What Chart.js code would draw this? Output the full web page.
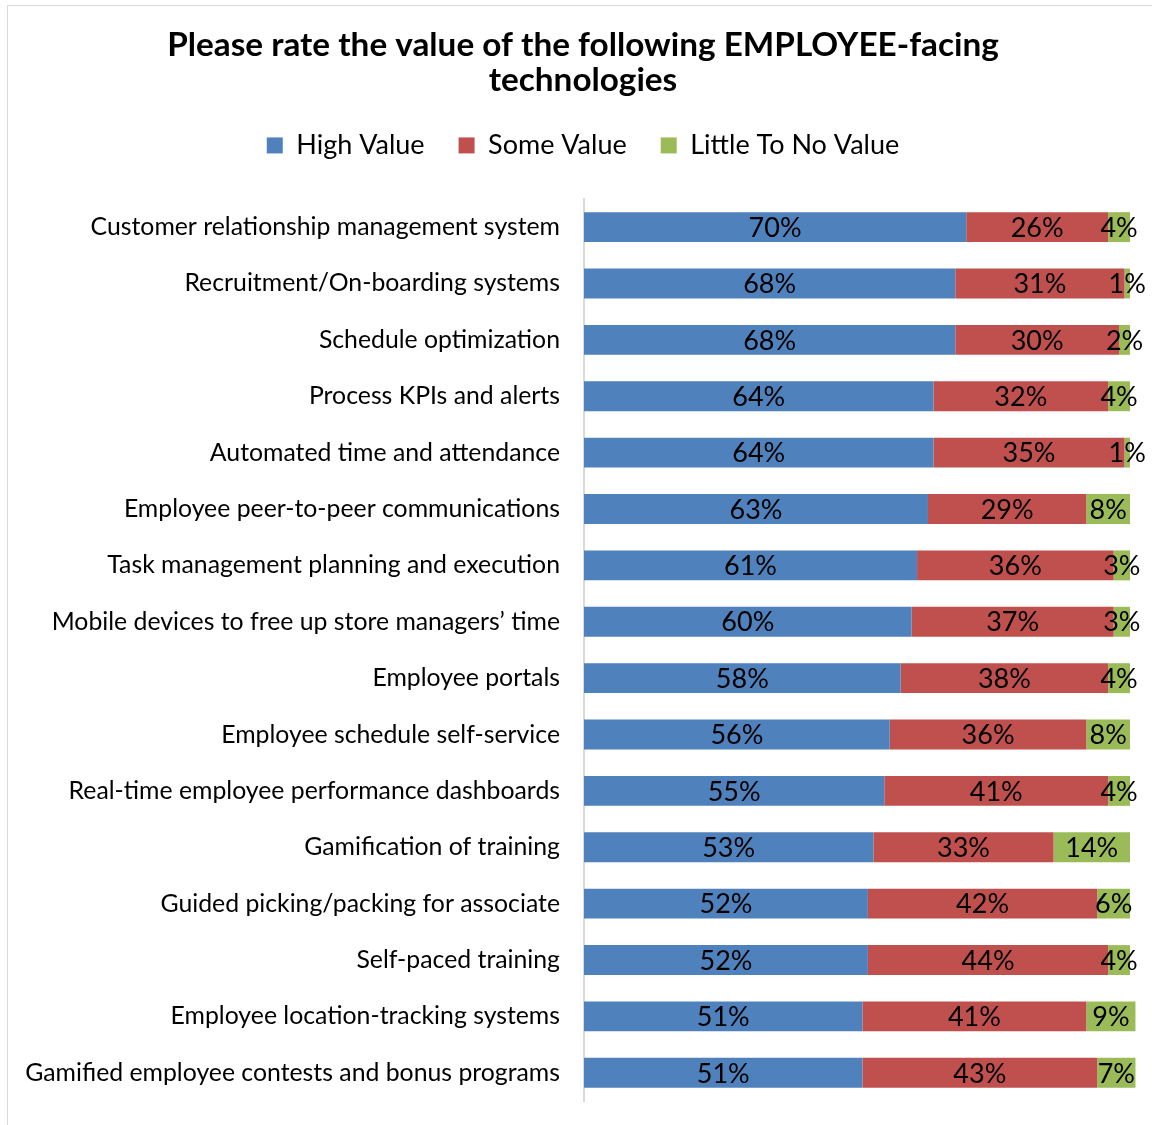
<!DOCTYPE html>
<html>
<head>
<meta charset="utf-8">
<title>EMPLOYEE-facing technologies</title>
<script src="https://cdn.jsdelivr.net/npm/chart.js@4.4.1/dist/chart.umd.min.js"></script>
<style>
    html, body { margin: 0; padding: 0; background: #fff; }
    #wrap { position: relative; width: 1152px; height: 1125px; }
    #frame {
        position: absolute; left: 7px; top: 5px; right: 0; bottom: 0;
        border-left: 1px solid #d9d9d9; border-top: 1px solid #d9d9d9;
        pointer-events: none;
    }
    canvas { position: absolute; left: 0; top: 0; }
</style>
</head>
<body>
<div id="wrap">
    <canvas id="techChart" width="1152" height="1125"></canvas>
    <div id="frame"></div>
</div>
<script>
// DATA
const technologies = [
    "Customer relationship management system",
    "Recruitment/On-boarding systems",
    "Schedule optimization",
    "Process KPIs and alerts",
    "Automated time and attendance",
    "Employee peer-to-peer communications",
    "Task management planning and execution",
    "Mobile devices to free up store managers\u2019 time",
    "Employee portals",
    "Employee schedule self-service",
    "Real-time employee performance dashboards",
    "Gamification of training",
    "Guided picking/packing for associate",
    "Self-paced training",
    "Employee location-tracking systems",
    "Gamified employee contests and bonus programs"
];
const highValue   = [70, 68, 68, 64, 64, 63, 61, 60, 58, 56, 55, 53, 52, 52, 51, 51];
const someValue   = [26, 31, 30, 32, 35, 29, 36, 37, 38, 36, 41, 33, 42, 44, 41, 43];
const littleValue = [ 4,  1,  2,  4,  1,  8,  3,  3,  4,  8,  4, 14,  6,  4,  9,  7];

const FONT = "Lato, 'Open Sans', sans-serif";

// percentage labels centred inside each segment
const segmentLabels = {
    id: "segmentLabels",
    afterDatasetsDraw(chart) {
        const ctx = chart.ctx;
        ctx.save();
        ctx.font = "27px " + FONT;
        ctx.fillStyle = "#000";
        ctx.textAlign = "center";
        ctx.textBaseline = "middle";
        chart.data.datasets.forEach((ds, i) => {
            chart.getDatasetMeta(i).data.forEach((bar, j) => {
                const p = bar.getProps(["x", "y", "base"], true);
                ctx.fillText(ds.data[j] + "%", (p.x + p.base) / 2, p.y + 1);
            });
        });
        ctx.restore();
    }
};

// extra room under the legend, and title + legend nudged right of centre
const headerLayout = {
    id: "headerLayout",
    beforeInit(chart) {
        const fit = chart.legend.fit;
        chart.legend.fit = function () {
            fit.bind(chart.legend)();
            this.height += 30;
        };
    },
    afterLayout(chart) {
        [chart.titleBlock, chart.legend].forEach(box => {
            box.left += 14;
            box.right += 14;
        });
    }
};

new Chart(document.getElementById("techChart"), {
    type: "bar",
    data: {
        labels: technologies,
        datasets: [
            { label: "High Value", data: highValue, backgroundColor: "#4F81BD" },
            { label: "Some Value", data: someValue, backgroundColor: "#C0504D" },
            { label: "Little To No Value", data: littleValue, backgroundColor: "#9BBB59", clip: false }
        ]
    },
    options: {
        indexAxis: "y",
        responsive: false,
        animation: false,
        barPercentage: 0.53,
        categoryPercentage: 1,
        layout: { padding: { left: 8, right: 22, bottom: 24 } },
        plugins: {
            title: {
                display: true,
                text: ["Please rate the value of the following EMPLOYEE-facing", "technologies"],
                color: "#000",
                font: { family: FONT, size: 33.3, weight: "bold", lineHeight: 1.05 },
                padding: { top: 28, bottom: 0 }
            },
            legend: {
                labels: {
                    color: "#000",
                    font: { family: FONT, size: 27 },
                    boxWidth: 16,
                    boxHeight: 16,
                    padding: 34
                }
            },
            tooltip: { enabled: false }
        },
        scales: {
            x: {
                stacked: true,
                min: 0,
                max: 100,
                display: false
            },
            y: {
                stacked: true,
                grid: { display: false, drawTicks: false },
                border: { display: true, color: "#d9d9d9", width: 2 },
                ticks: {
                    color: "#000",
                    font: { family: FONT, size: 24.8 },
                    padding: 24,
                    autoSkip: false
                },
                afterFit(scale) {
                    scale.width = 576;
                    scale.paddingTop = 0;
                    scale.paddingBottom = 0;
                }
            }
        }
    },
    plugins: [segmentLabels, headerLayout]
});
</script>
</body>
</html>
